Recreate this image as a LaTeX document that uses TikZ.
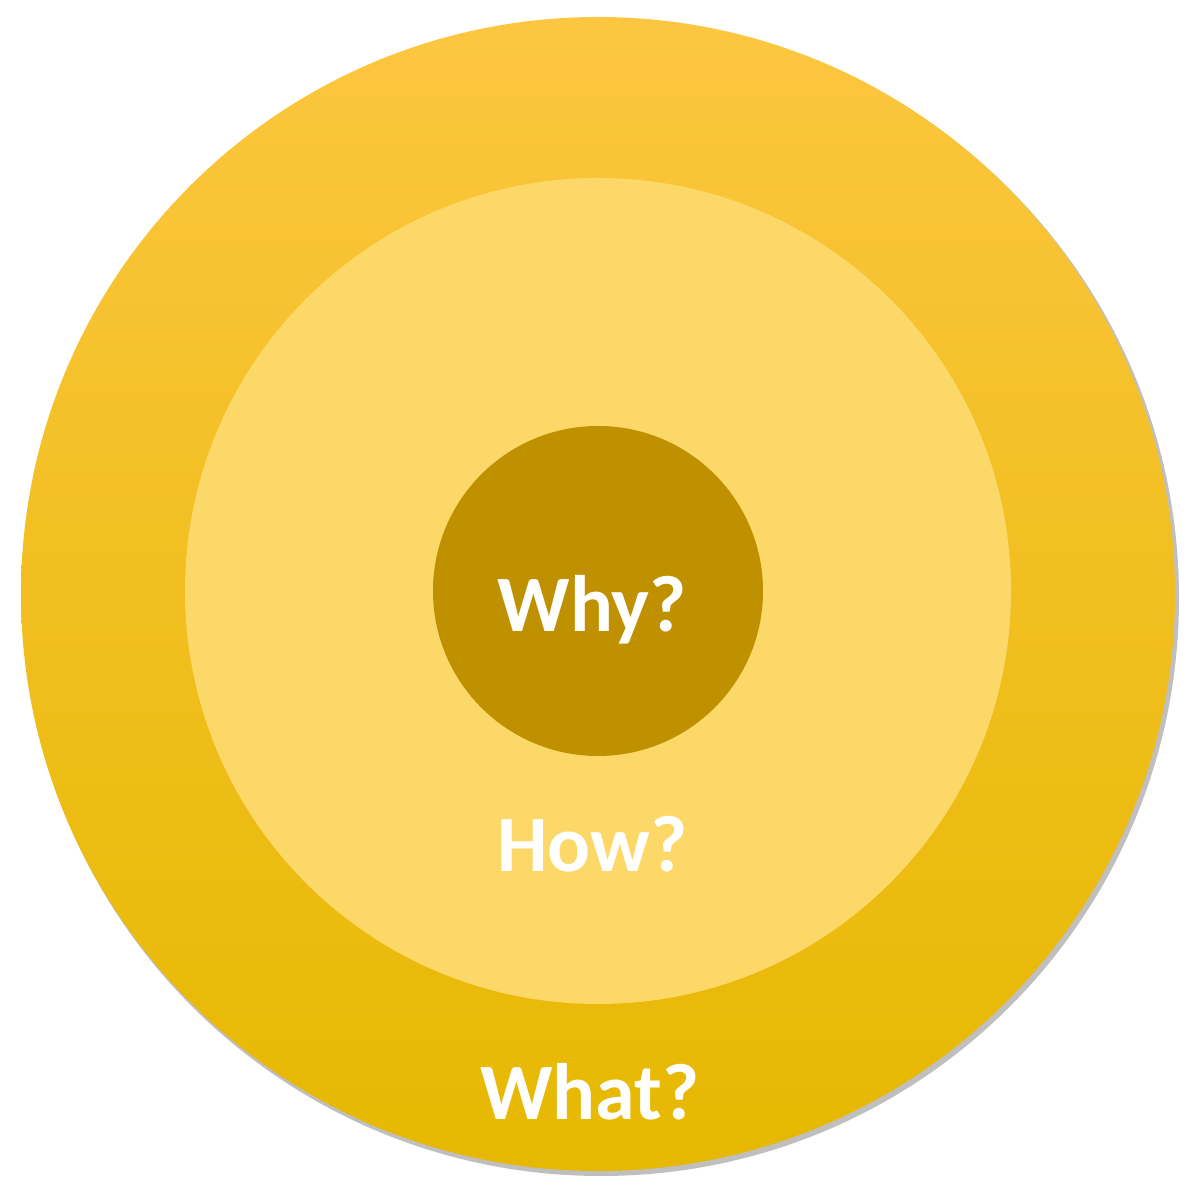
\documentclass[tikz,border=0pt]{standalone}
\usepackage{fontspec}
\setmainfont{Carlito}
\begin{document}
\begin{tikzpicture}[x=1pt,y=1pt,
  lbl/.style={text=white,font=\fontsize{80}{90}\selectfont\bfseries,anchor=base}]
\useasboundingbox (0,0) rectangle (1197,1197);
\fill[black!25] (601,599) circle[radius=578];
\shade[top color={rgb,255:red,253;green,198;blue,64},middle color={rgb,255:red,252;green,196;blue,0},bottom color={rgb,255:red,230;green,184;blue,0}] (598,603) circle[radius=577];
\node[circle,fill={rgb,255:red,252;green,216;blue,104},minimum size=826pt,inner sep=0pt] (how) at (598,606) {};
\node[circle,fill={rgb,255:red,191;green,145;blue,0},minimum size=330pt,inner sep=0pt] (why) at (598,606) {};
\node[lbl] (twhy) at (592,565) {Why?};
\node[lbl] (thow) at (592,325) {How?};
\node[lbl] (twhat) at (590,77) {What?};
\end{tikzpicture}
\end{document}
